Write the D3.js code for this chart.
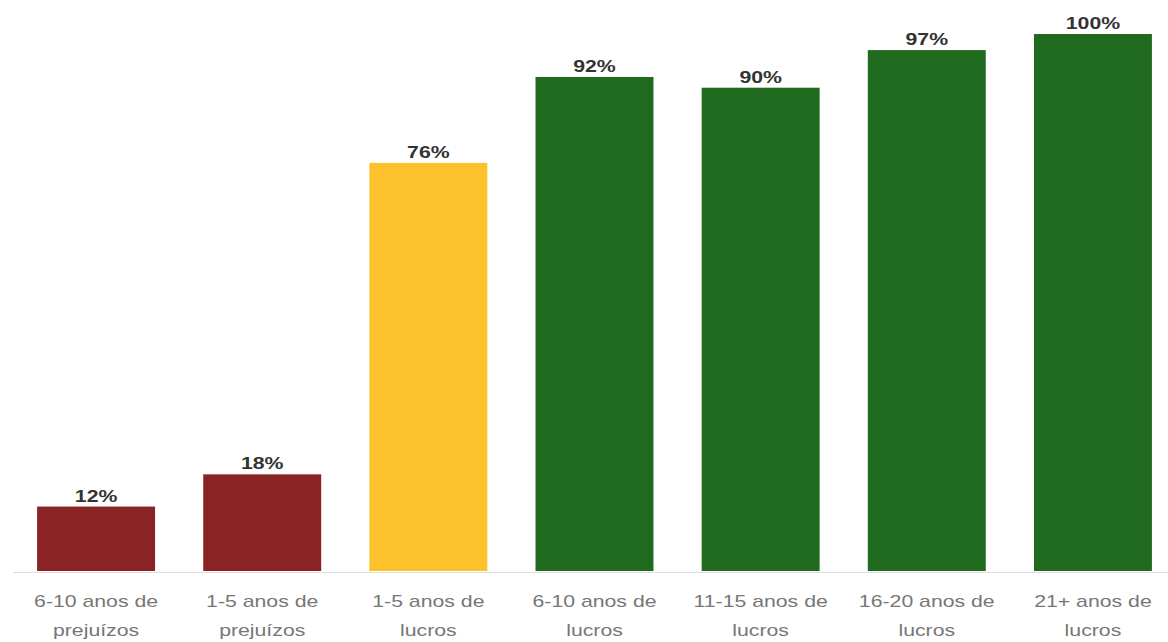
<!DOCTYPE html>
<html>
<head>
<meta charset="utf-8">
<script src="https://cdn.jsdelivr.net/npm/d3@7"></script>
<style>
  html, body { margin: 0; padding: 0; background: #fff; }
  svg { display: block; }
</style>
</head>
<body>
<svg id="chart"></svg>
<script>
// categories, two lines each
const categories = [
  ["6-10 anos de", "prejuízos"],
  ["1-5 anos de", "prejuízos"],
  ["1-5 anos de", "lucros"],
  ["6-10 anos de", "lucros"],
  ["11-15 anos de", "lucros"],
  ["16-20 anos de", "lucros"],
  ["21+ anos de", "lucros"]
];
const values = [12, 18, 76, 92, 90, 97, 100];
const groups = ["loss", "loss", "mid", "profit", "profit", "profit", "profit"];

const width = 1168;
const height = 642;
const colors = { loss: "#8a2424", mid: "#fcc12b", profit: "#1f6a1f" };
const stretch = 1.25; // the source text is a bit wide

const svg = d3.select("#chart")
  .attr("width", width)
  .attr("height", height);

const x = d3.scaleBand()
  .domain(d3.range(categories.length))
  .range([13, 1176])
  .paddingInner(0.29)
  .paddingOuter(0.145);

const y = d3.scaleLinear()
  .domain([0, 100])
  .range([571, 34]);

// baseline
svg.append("line")
  .attr("x1", 13)
  .attr("x2", width)
  .attr("y1", y(0) + 1.5)
  .attr("y2", y(0) + 1.5)
  .attr("stroke", "#dedede")
  .attr("stroke-width", 1);

// bars
svg.selectAll("rect.bar")
  .data(values)
  .enter()
  .append("rect")
  .attr("class", "bar")
  .attr("x", (d, i) => x(i))
  .attr("y", d => y(d))
  .attr("width", x.bandwidth())
  .attr("height", d => y(0) - y(d))
  .attr("fill", (d, i) => colors[groups[i]]);

// value labels
svg.selectAll("text.val")
  .data(values)
  .enter()
  .append("text")
  .attr("class", "val")
  .attr("transform", (d, i) => `translate(${x(i) + x.bandwidth() / 2},${y(d) - 5}) scale(${stretch},1)`)
  .attr("text-anchor", "middle")
  .attr("font-family", "Liberation Sans, Arial, sans-serif")
  .attr("font-size", 17)
  .attr("font-weight", "bold")
  .attr("fill", "#333")
  .text(d => d + "%");

// category labels
const cat = svg.selectAll("g.cat")
  .data(categories)
  .enter()
  .append("g")
  .attr("class", "cat")
  .attr("transform", (d, i) => `translate(${x(i) + x.bandwidth() / 2},0)`);

cat.selectAll("text")
  .data(d => d)
  .enter()
  .append("text")
  .attr("transform", (d, j) => `translate(0,${607 + j * 29}) scale(${stretch},1)`)
  .attr("text-anchor", "middle")
  .attr("font-family", "Liberation Sans, Arial, sans-serif")
  .attr("font-size", 17)
  .attr("fill", "#777")
  .text(d => d);
</script>
</body>
</html>
